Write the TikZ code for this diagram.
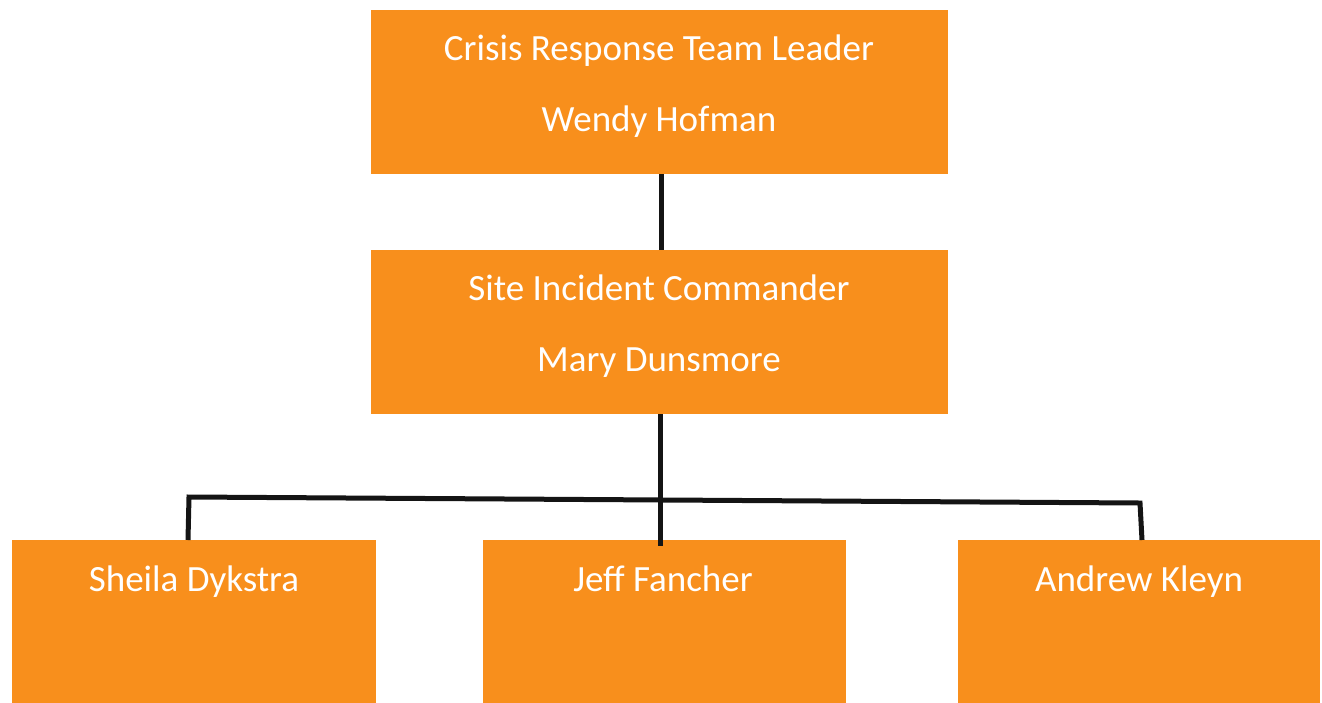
\documentclass[tikz,border=0pt]{standalone}
\usepackage{fontspec}
\setmainfont{Carlito}
\definecolor{boxorange}{RGB}{248,143,28}
\definecolor{linkblack}{RGB}{20,20,20}
\begin{document}
\begin{tikzpicture}[x=1pt,y=-1pt,
  rolebox/.style={fill=boxorange,draw=none,inner sep=0pt,anchor=north west},
  roletext/.style={text=white,font=\fontsize{37}{70}\selectfont,inner sep=0pt,anchor=base},
  link/.style={draw=linkblack,line width=5pt,line join=miter}]
  \useasboundingbox (0,0) rectangle (1322,702);
  % boxes
  \node[rolebox,minimum width=577pt,minimum height=164pt] (lead) at (371,10) {};
  \node[rolebox,minimum width=577pt,minimum height=164pt] (cmd) at (371,250) {};
  \node[rolebox,minimum width=364pt,minimum height=200pt] (sd) at (12,540) {};
  \node[rolebox,minimum width=363pt,minimum height=200pt] (jf) at (483,540) {};
  \node[rolebox,minimum width=362pt,minimum height=200pt] (ak) at (958,540) {};
  % labels, set on their baselines
  \node[roletext] (leadA) at (659,60) {Crisis Response Team Leader};
  \node[roletext] (leadB) at (659,131) {Wendy Hofman};
  \node[roletext] (cmdA) at (659,300) {Site Incident Commander};
  \node[roletext] (cmdB) at (659,371) {Mary Dunsmore};
  \node[roletext] (sdT) at (194,591) {Sheila Dykstra};
  \node[roletext] (jfT) at (663,591) {Jeff Fancher};
  \node[roletext] (akT) at (1139,591) {Andrew Kleyn};
  % connectors
  \coordinate (barL) at (189,497);
  \coordinate (barR) at (1140,503);
  \draw[link] (lead.south -| 661,0) -- (cmd.north -| 661,0);
  \draw[link] (cmd.south -| 660,0) -- (660,546);
  \draw[link] (sd.north -| 188,0) -- (barL) -- (barR) -- (ak.north -| 1142,0);
\end{tikzpicture}
\end{document}
